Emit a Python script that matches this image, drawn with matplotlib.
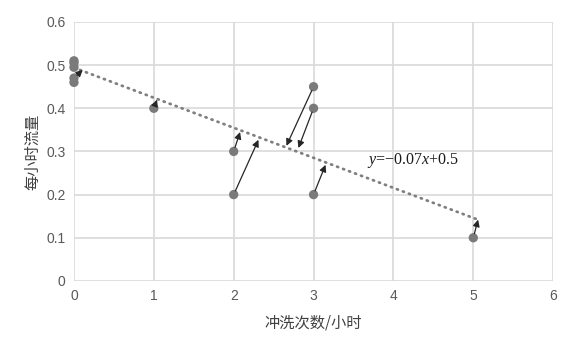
import matplotlib.pyplot as plt
import numpy as np

plt.rcParams['font.family'] = ['Noto Sans CJK SC', 'DejaVu Sans']
plt.rcParams['mathtext.fontset'] = 'custom'
plt.rcParams['mathtext.it'] = 'Liberation Serif:italic'
plt.rcParams['mathtext.rm'] = 'Liberation Serif'

# 观测点
wash_x = [0, 0, 0, 0, 0, 1, 2, 2, 3, 3, 3, 5]
flow_y = [0.51, 0.505, 0.495, 0.47, 0.46, 0.40, 0.30, 0.20, 0.45, 0.40, 0.20, 0.10]

# 箭头 (起点 -> 趋势线上的终点)
arrow_from_x = [0, 1, 2, 2, 3, 3, 3, 5]
arrow_from_y = [0.47, 0.40, 0.30, 0.20, 0.45, 0.40, 0.20, 0.10]
arrow_to_x = [0.11, 1.04, 2.08, 2.31, 2.66, 2.81, 3.15, 5.06]
arrow_to_y = [0.489, 0.42, 0.345, 0.327, 0.313, 0.308, 0.269, 0.142]

# 趋势线
trend_slope = -0.0696
trend_icpt = 0.494
trend_x = [0, 5.06]

x_ticks = [0, 1, 2, 3, 4, 5, 6]
y_ticks = [0, 0.1, 0.2, 0.3, 0.4, 0.5, 0.6]
y_tick_labels = ['0', '0.1', '0.2', '0.3', '0.4', '0.5', '0.6']

fig = plt.figure(figsize=(5.78, 3.43), dpi=100)
ax = fig.add_axes([0.128, 0.181, 0.829, 0.755])

ax.set_xlim(0, 6)
ax.set_ylim(0, 0.6)
ax.set_xticks(x_ticks)
ax.set_yticks(y_ticks)
ax.set_yticklabels(y_tick_labels)
ax.tick_params(length=0, labelsize=10, colors='#595959', pad=6)
for lab in ax.get_xticklabels() + ax.get_yticklabels():
    lab.set_fontfamily('Liberation Sans')
ax.grid(True, color='#d9d9d9', lw=1.2)
ax.set_axisbelow(True)
for s in ax.spines.values():
    s.set_visible(False)

tx = np.array(trend_x)
ax.plot(tx, trend_slope * tx + trend_icpt, color='#7f7f7f', lw=2,
        linestyle=(0, (0.4, 1.9)), dash_capstyle='round', zorder=2)

ax.scatter(wash_x, flow_y, s=45, color='#7a7a7a', zorder=3, clip_on=False, edgecolor='none')

for x0, y0, x1, y1 in zip(arrow_from_x, arrow_from_y, arrow_to_x, arrow_to_y):
    ax.annotate('', xy=(x1, y1), xytext=(x0, y0),
                arrowprops=dict(arrowstyle='-|>', color='#262626', lw=0.9,
                                mutation_scale=10, shrinkA=3, shrinkB=0),
                zorder=4)

ax.text(3.67, 0.278, r'$y$=−0.07$x$+0.5', fontsize=11.5, color='#1a1a1a',
        family='Liberation Serif', va='center', ha='left')

ax.set_xlabel('冲洗次数/小时', fontsize=11, color='#404040', labelpad=8)
ax.set_ylabel('每小时流量', fontsize=11, color='#404040', labelpad=4)

plt.savefig('out.png', dpi=100)
